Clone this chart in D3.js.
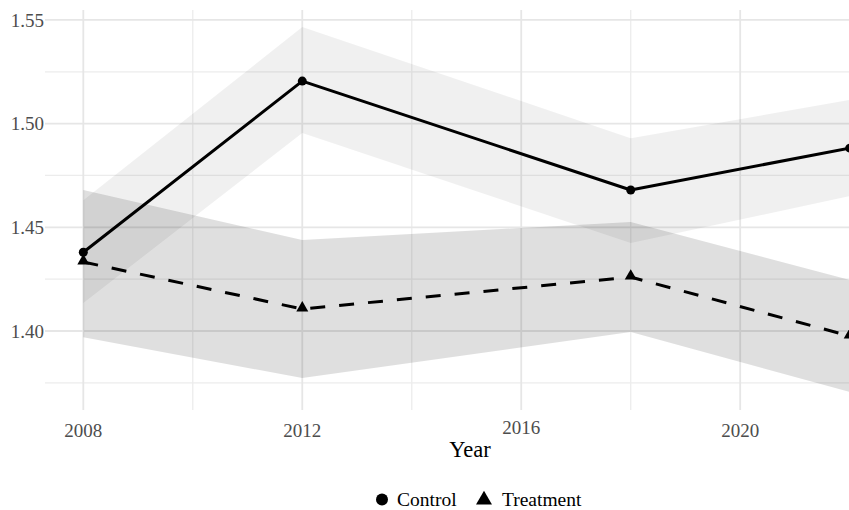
<!DOCTYPE html>
<html>
<head>
<meta charset="utf-8">
<script src="https://cdn.jsdelivr.net/npm/d3@7"></script>
<style>
  html, body { margin: 0; padding: 0; background: #fff; overflow: hidden; }
  svg { display: block; }
</style>
</head>
<body>
<svg id="chart" width="849" height="510"></svg>
<script>
// Survey years and group estimates with their interval bounds
const years = [2008, 2012, 2018, 2022];

const controlMean  = [1.438, 1.5205, 1.468, 1.4882];
const controlLow   = [1.4135, 1.4955, 1.4424, 1.4650];
const controlHigh  = [1.4630, 1.5466, 1.4930, 1.5114];

const treatMean    = [1.4333, 1.4106, 1.426, 1.3976];
const treatLow     = [1.3970, 1.3773, 1.3995, 1.3706];
const treatHigh    = [1.4680, 1.4439, 1.4526, 1.4246];

const xTicks = [2008, 2012, 2016, 2020];
const xMinor = [2010, 2014, 2018, 2022];
const yTicks = [1.40, 1.45, 1.50, 1.55];
const yMinor = [1.375, 1.425, 1.475, 1.525];

const groups = ["Control", "Treatment"];

const svg = d3.select("#chart");
const W = 849, H = 510;
const panel = { left: 45, right: 888, top: 10, bottom: 410 };

const x = d3.scaleLinear().domain([2007.3, 2022.7]).range([panel.left, panel.right]);
const y = d3.scaleLinear().domain([1.3619, 1.5548]).range([panel.bottom, panel.top]);

const serif = "'Liberation Serif', 'Times New Roman', Times, serif";

// Grid
const grid = svg.append("g");
grid.selectAll(".ymin").data(yMinor).join("line")
  .attr("x1", panel.left).attr("x2", W)
  .attr("y1", d => y(d)).attr("y2", d => y(d))
  .attr("stroke", "#ececec").attr("stroke-width", 1.3);
grid.selectAll(".xmin").data(xMinor).join("line")
  .attr("y1", panel.top).attr("y2", panel.bottom)
  .attr("x1", d => x(d)).attr("x2", d => x(d))
  .attr("stroke", "#ececec").attr("stroke-width", 1.3);
grid.selectAll(".ymaj").data(yTicks).join("line")
  .attr("x1", panel.left).attr("x2", W)
  .attr("y1", d => y(d)).attr("y2", d => y(d))
  .attr("stroke", "#e6e6e6").attr("stroke-width", 1.8);
grid.selectAll(".xmaj").data(xTicks).join("line")
  .attr("y1", panel.top).attr("y2", panel.bottom)
  .attr("x1", d => x(d)).attr("x2", d => x(d))
  .attr("stroke", "#e6e6e6").attr("stroke-width", 1.8);

// Confidence ribbons
const bandData = (lo, hi) => years.map((yr, i) => ({ yr, lo: lo[i], hi: hi[i] }));
const area = d3.area().x(d => x(d.yr)).y0(d => y(d.lo)).y1(d => y(d.hi));

svg.append("path").datum(bandData(controlLow, controlHigh))
  .attr("d", area).attr("fill", "#000").attr("fill-opacity", 0.06);
svg.append("path").datum(bandData(treatLow, treatHigh))
  .attr("d", area).attr("fill", "#000").attr("fill-opacity", 0.125);

// Lines
const line = d3.line().x((d, i) => x(years[i])).y(d => y(d));
svg.append("path").datum(controlMean).attr("d", line)
  .attr("fill", "none").attr("stroke", "#000").attr("stroke-width", 3)
  .attr("stroke-linejoin", "round");
svg.append("path").datum(treatMean).attr("d", line)
  .attr("fill", "none").attr("stroke", "#000").attr("stroke-width", 3)
  .attr("stroke-dasharray", "15,14");

// Points
svg.selectAll(".cpt").data(controlMean).join("circle")
  .attr("cx", (d, i) => x(years[i])).attr("cy", d => y(d))
  .attr("r", 4.5).attr("fill", "#000");
const tri = d3.symbol().type(d3.symbolTriangle).size(62);
svg.selectAll(".tpt").data(treatMean).join("path")
  .attr("d", tri)
  .attr("transform", (d, i) => `translate(${x(years[i])},${y(d) - 1})`)
  .attr("fill", "#000");

// Axis labels
svg.selectAll(".ylab").data(yTicks).join("text")
  .attr("x", 44).attr("y", d => y(d))
  .attr("dy", "0.35em").attr("text-anchor", "end")
  .attr("font-family", serif).attr("font-size", 19)
  .attr("fill", "#4d4d4d").text(d => d3.format(".2f")(d));

svg.selectAll(".xlab").data(xTicks).join("text")
  .attr("x", d => x(d)).attr("y", d => d === 2016 ? 434 : 437)
  .attr("text-anchor", "middle")
  .attr("font-family", serif).attr("font-size", 19)
  .attr("fill", "#4d4d4d").text(d => d);

svg.append("text").attr("x", 470).attr("y", 457)
  .attr("text-anchor", "middle").attr("font-family", serif)
  .attr("font-size", 22.5).attr("fill", "#000").text("Year");

// Legend
const legend = svg.append("g");
legend.append("circle").attr("cx", 382).attr("cy", 499.5).attr("r", 6).attr("fill", "#000");
legend.append("text").attr("x", 397).attr("y", 506)
  .attr("font-family", serif).attr("font-size", 19.5).attr("fill", "#000").text(groups[0]);
legend.append("path").attr("d", d3.symbol().type(d3.symbolTriangle).size(110))
  .attr("transform", "translate(484,500)").attr("fill", "#000");
legend.append("text").attr("x", 502).attr("y", 506)
  .attr("font-family", serif).attr("font-size", 19.5).attr("fill", "#000").text(groups[1]);
</script>
</body>
</html>
